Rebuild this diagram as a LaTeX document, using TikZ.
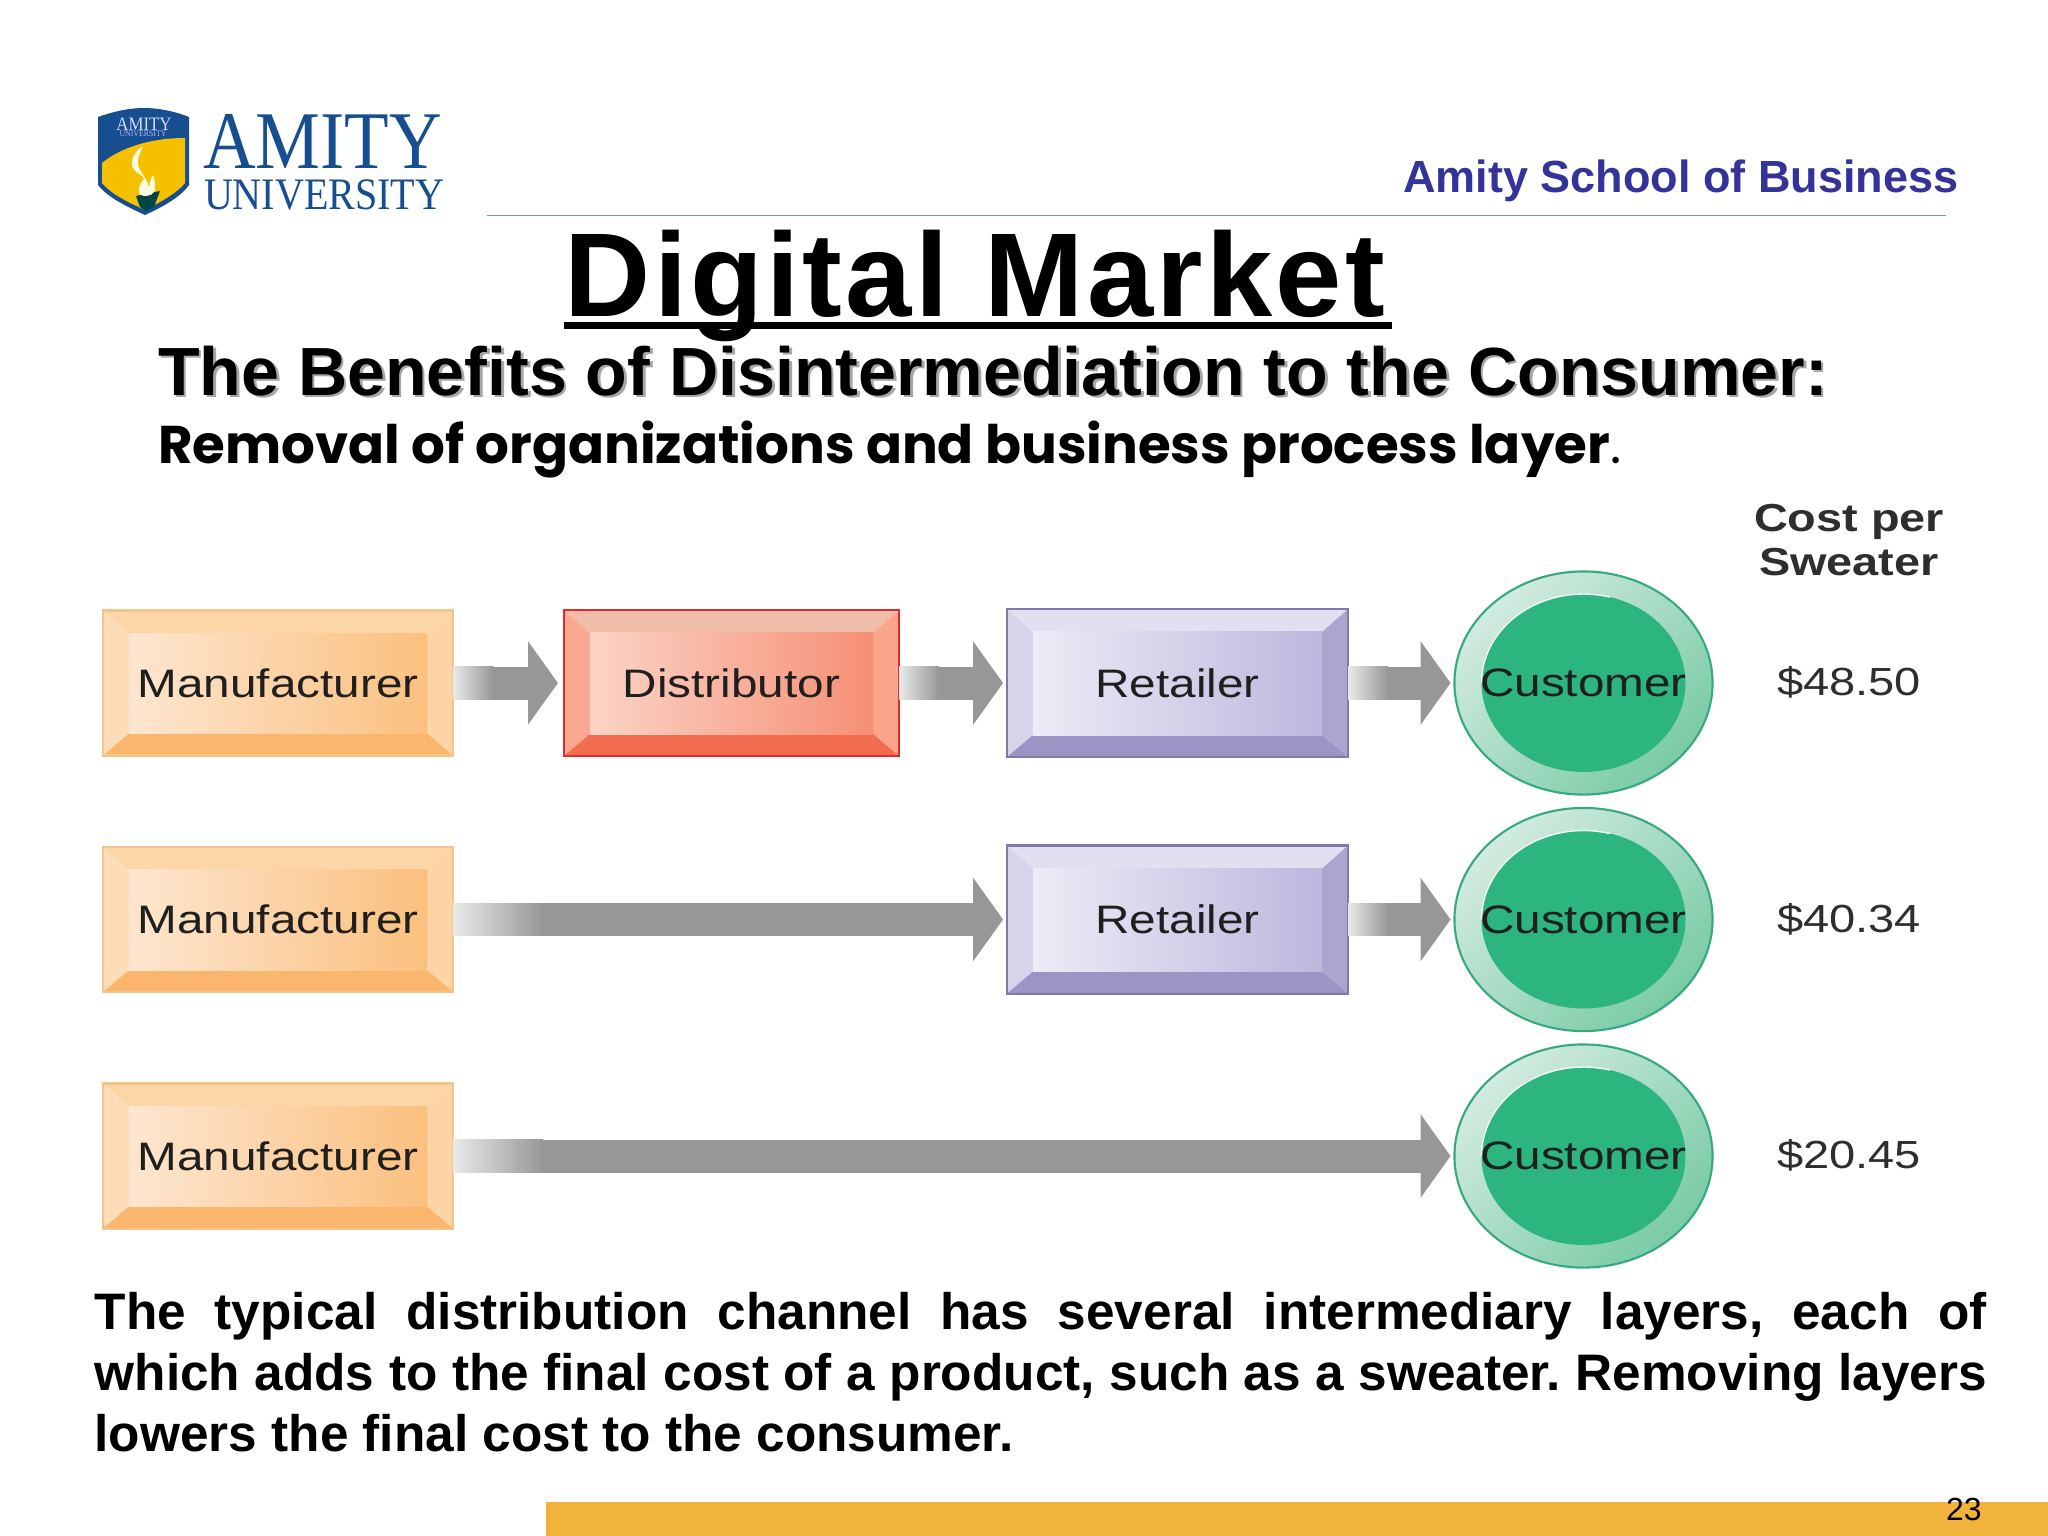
\documentclass[tikz,border=0pt]{standalone}
\usepackage{fontspec}
\usetikzlibrary{arrows.meta,shapes.geometric}
\setmainfont{Liberation Sans}
\newfontfamily\wideface[FakeStretch=1.2]{Liberation Sans}
\newfontfamily\titleface[LetterSpace=2.7]{Liberation Sans}
\newfontfamily\logoface[FakeStretch=0.89]{Liberation Serif}
\newfontfamily\geoface{Poppins}
% box colours, one set per kind of box
\definecolor{mfredge}{HTML}{F6C48A}
\definecolor{mfrtop}{HTML}{FDD6A8}
\definecolor{mfrleft}{HTML}{FDDCB8}
\definecolor{mfrright}{HTML}{FDD4A4}
\definecolor{mfrbot}{HTML}{FBB66E}
\definecolor{mfrfrom}{HTML}{FDE6D0}
\definecolor{mfrto}{HTML}{FBC07E}
\definecolor{distedge}{HTML}{DF2A30}
\definecolor{disttop}{HTML}{F0BEA8}
\definecolor{distleft}{HTML}{FBA890}
\definecolor{distright}{HTML}{FBA58C}
\definecolor{distbot}{HTML}{F26D50}
\definecolor{distfrom}{HTML}{FBD4C6}
\definecolor{distto}{HTML}{F58F75}
\definecolor{retedge}{HTML}{7F7AA6}
\definecolor{rettop}{HTML}{E2DFF0}
\definecolor{retleft}{HTML}{D6D3EA}
\definecolor{retright}{HTML}{ABA5CF}
\definecolor{retbot}{HTML}{9D94C6}
\definecolor{retfrom}{HTML}{EDEBF6}
\definecolor{retto}{HTML}{BDB7DD}
\definecolor{custedge}{HTML}{35A97F}
\definecolor{custring}{HTML}{D2EBE0}
\definecolor{custdark}{HTML}{7ACBA6}
\definecolor{custface}{HTML}{2DB57F}
\definecolor{flowgrey}{HTML}{979797}
\definecolor{flowlight}{HTML}{E8EAE9}
\definecolor{logoblue}{HTML}{164E90}
\definecolor{logogold}{HTML}{F5C000}
\definecolor{schoolblue}{HTML}{333399}
\definecolor{rulegreen}{HTML}{7F9E9A}
\definecolor{barorange}{HTML}{F2B33D}
\tikzset{
  bevelbox/.style={rectangle,draw=#1edge,line width=.6pt,inner sep=0pt,outer sep=0pt,
    text=black!88,font=\fontsize{11.3}{13}\wideface,
    path picture={
      \coordinate (onw) at (path picture bounding box.north west);
      \coordinate (one) at (path picture bounding box.north east);
      \coordinate (osw) at (path picture bounding box.south west);
      \coordinate (ose) at (path picture bounding box.south east);
      \coordinate (inw) at ([shift={(26,23)}]onw);
      \coordinate (ine) at ([shift={(-26,23)}]one);
      \coordinate (isw) at ([shift={(26,-22)}]osw);
      \coordinate (ise) at ([shift={(-26,-22)}]ose);
      \fill[#1top] (onw) -- (one) -- (ine) -- (inw) -- cycle;
      \fill[#1left] (onw) -- (inw) -- (isw) -- (osw) -- cycle;
      \fill[#1right] (one) -- (ine) -- (ise) -- (ose) -- cycle;
      \fill[#1bot] (osw) -- (isw) -- (ise) -- (ose) -- cycle;
      \shade[left color=#1from,right color=#1to] (inw) rectangle (ise);
    }},
  mfrbox/.style={bevelbox=mfr,minimum width=3.5cm,minimum height=1.45cm},
  distbox/.style={bevelbox=dist,minimum width=3.35cm,minimum height=1.46cm},
  retbox/.style={bevelbox=ret,minimum width=3.41cm,minimum height=1.48cm},
  custnode/.style={ellipse,draw=custedge,line width=.6pt,inner sep=0pt,outer sep=0pt,
    minimum width=2.58cm,minimum height=2.23cm,
    top color=custring,middle color=custring,bottom color=custdark,shading angle=45,
    text=black!88,font=\fontsize{11.3}{13}\wideface,
    path picture={
      \fill[custface] (path picture bounding box.center) ellipse [x radius=102,y radius=89];
      \draw[white!75!custring,line width=.4pt] ([shift={(-102,0)}]path picture bounding box.center)
        arc [start angle=180,end angle=285,x radius=102,y radius=89];
    }},
  flowarrow/.style={flowgrey,line width=9.39pt,shorten >=1.1pt,
    -{Triangle[length=8.5pt,width=23.3pt]}},
  costlabel/.style={text=black!82,font=\fontsize{11.15}{13}\wideface,inner sep=0pt},
  plaintext/.style={anchor=base west,inner sep=0pt,outer sep=0pt}
}
% pale start of an arrow shaft
\newcommand{\shaftfade}[2]{\shade[left color=flowlight,right color=flowgrey,shift={(#1.east)}] (0,-16.2) rectangle (#2,16.2);}
% text with a soft grey copy behind it
\newcommand{\softshadow}[1]{\rlap{\kern.8pt\raisebox{-.8pt}{\color{black!35}#1}}#1}
\begin{document}
\begin{tikzpicture}[x=0.01cm,y=-0.01cm]
    \useasboundingbox (0,0) rectangle (2048,1536);
    \fill[white] (0,0) rectangle (2048,1536);
    \fill[barorange] (546,1502) rectangle (2048,1536);
    % logo
    \fill[logoblue] (98,117) .. controls (115,111) and (130,108) .. (144,108)
        .. controls (158,108) and (174,111) .. (189,117) -- (189,185)
        .. controls (180,198) and (160,208) .. (145,215)
        .. controls (130,208) and (108,198) .. (98,185) -- cycle;
    \fill[logogold] (102,163) .. controls (120,148) and (150,138) .. (185,138) -- (185,183)
        .. controls (175,195) and (158,203) .. (145,210)
        .. controls (130,203) and (112,195) .. (102,183) -- cycle;
    \fill[teal!55!black] (136,196) -- (160,191) -- (154,207) -- (146,211) -- (140,207) -- cycle;
    \fill[yellow!12] (143,146) .. controls (134,152) and (130,160) .. (133,168)
        .. controls (136,174) and (143,174) .. (144,179)
        .. controls (140,184) and (136,190) .. (141,195)
        .. controls (148,198) and (156,194) .. (155,187)
        .. controls (155,182) and (154,178) .. (153,175)
        .. controls (150,180) and (150,184) .. (149,187)
        .. controls (147,178) and (139,172) .. (138,164)
        .. controls (137,157) and (141,152) .. (143,146) -- cycle;
    \node (shieldname) at (144,124) [inner sep=0pt,text=white!85!blue,font=\fontsize{5.4}{6}\logoface] {AMITY};
    \node (shieldsub) at (143,134) [inner sep=0pt,text=white!70!blue,font=\fontsize{2.5}{3}\logoface] {UNIVERSITY};
    \begin{scope}[every node/.style={plaintext}]
        \node (logoname) at (203,168) [text=logoblue,font=\fontsize{23.3}{25}\logoface] {AMITY};
        \node (logosub) at (204,209) [text=logoblue,font=\fontsize{12.8}{14}\logoface] {UNIVERSITY};
        \node (school) at (1403,192) [text=schoolblue,font=\fontsize{12.8}{15}\bfseries] {Amity School of Business};
        \node (heading) at (158,395) [font=\fontsize{19.38}{22}\bfseries] {\softshadow{The Benefits of Disintermediation to the Consumer:}};
        \node (subhead) at (158,463) [font=\fontsize{15.1}{18}\geoface\bfseries] {Removal of organizations and business process layer{\mdseries.}};
        \node (pagenum) at (1946,1520) [font=\fontsize{9.1}{11}\selectfont] {23};
    \end{scope}
    \draw[rulegreen,line width=.55pt] (487,215.5) -- (1946,215.5);
    % title, with its thick rule
    \node (title) at (975,316) [anchor=base,inner sep=0pt,font=\fontsize{33.9}{38}\titleface\bfseries] {Digital Market};
    \draw[line width=2.1pt] (564,325.5) -- (1392,325.5);
    % cost column
    \node (costhead) at (1849,540) [costlabel,align=center,font=\fontsize{11.1}{12.4}\wideface\bfseries] {Cost per\\Sweater};
    \node (cost1) at (1849,682) [costlabel] {\$48.50};
    \node (cost2) at (1849,919) [costlabel] {\$40.34};
    \node (cost3) at (1849,1155) [costlabel] {\$20.45};
    % first channel
    \node (mfr1) at (278,683) [mfrbox] {Manufacturer};
    \node (dist1) at (731.5,683) [distbox] {Distributor};
    \node (ret1) at (1177.5,683) [retbox] {Retailer};
    \node (cust1) at (1583.5,683) [custnode] {\makebox[0pt]{Customer}};
    % second channel
    \node (mfr2) at (278,919.5) [mfrbox] {Manufacturer};
    \node (ret2) at (1177.5,919.5) [retbox] {Retailer};
    \node (cust2) at (1583.5,919.5) [custnode] {\makebox[0pt]{Customer}};
    % third channel
    \node (mfr3) at (278,1156) [mfrbox] {Manufacturer};
    \node (cust3) at (1583.5,1156) [custnode] {\makebox[0pt]{Customer}};
    % arrows
    \path[flowarrow]
        (mfr1.east) edge [shorten >=1.7pt] (dist1.west)
        (dist1.east) edge (ret1.west)
        (ret1.east) edge (cust1.west)
        (mfr2.east) edge (ret2.west)
        (ret2.east) edge (cust2.west)
        (mfr3.east) edge (cust3.west);
    \shaftfade{mfr1}{40}
    \shaftfade{dist1}{40}
    \shaftfade{ret1}{40}
    \shaftfade{mfr2}{90}
    \shaftfade{ret2}{40}
    \shaftfade{mfr3}{90}
    % note under the channels
    \node (note) at (94,1329) [anchor=base west,inner sep=0pt,text width=18.91cm,align=justify,
        font=\fontsize{14.6}{17.44}\bfseries] {\frenchspacing The typical distribution channel has several intermediary layers, each of\linebreak which adds to the final cost of a product, such as a sweater. Removing layers\linebreak lowers the final cost to the consumer.};
\end{tikzpicture}
\end{document}
